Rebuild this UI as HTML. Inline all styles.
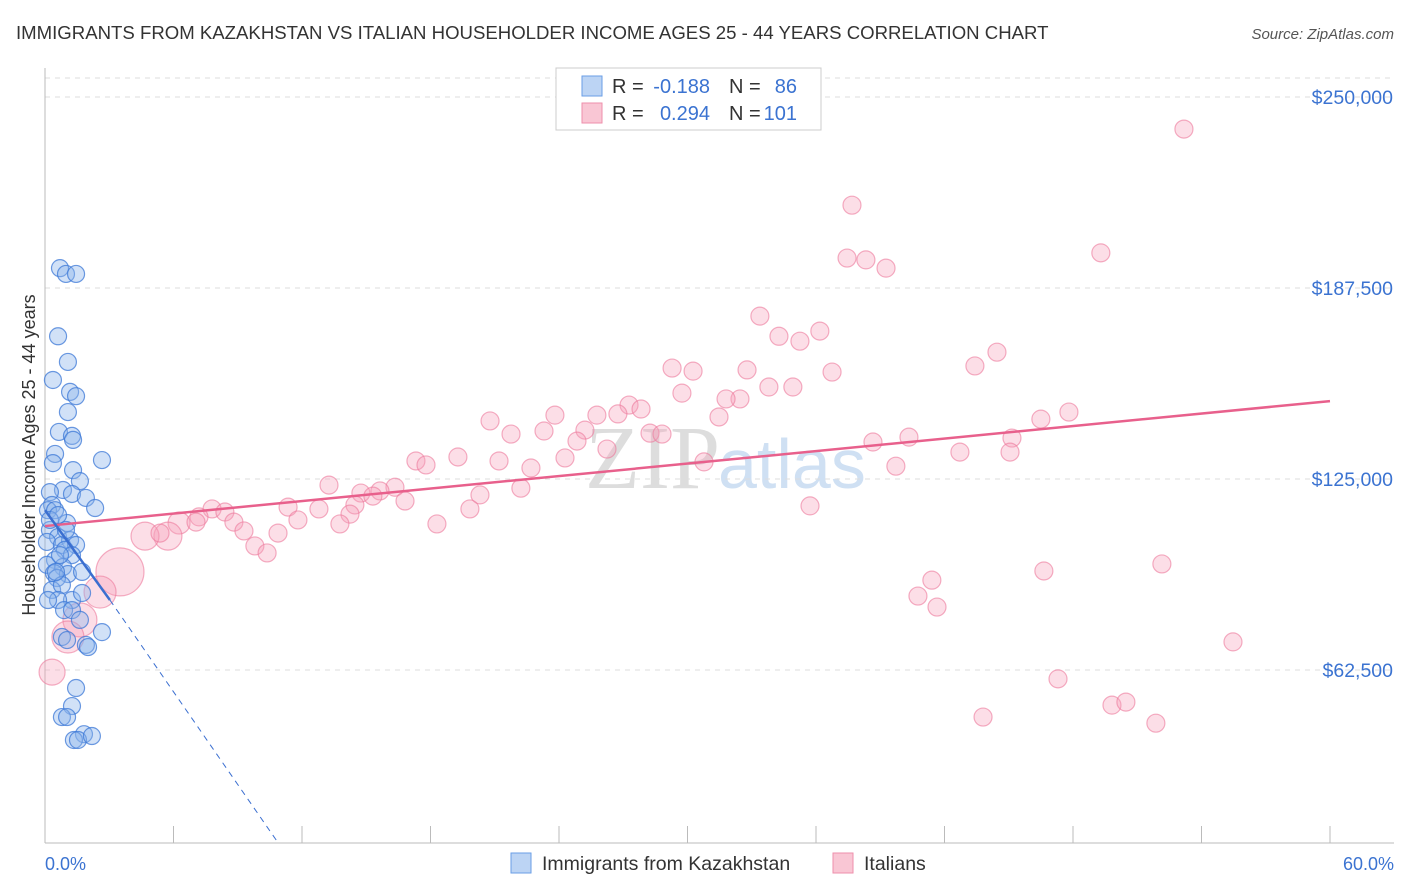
<!DOCTYPE html>
<html><head><meta charset="utf-8"><style>
body{margin:0;background:#fff;font-family:"Liberation Sans",sans-serif}
svg{display:block}
</style></head><body>
<svg width="1406" height="892" xmlns="http://www.w3.org/2000/svg">
<text x="16" y="39" font-size="18.6" fill="#333">IMMIGRANTS FROM KAZAKHSTAN VS ITALIAN HOUSEHOLDER INCOME AGES 25 - 44 YEARS CORRELATION CHART</text>
<text x="1394" y="39" font-size="15" fill="#555" font-style="italic" text-anchor="end">Source: ZipAtlas.com</text>
<text x="720" y="488" font-size="90" fill="#ddd" text-anchor="end" font-family="Liberation Serif,serif">ZIP</text>
<text x="718" y="488" font-size="70" fill="#cfe0f3">atlas</text>
<g id="grid"></g>
<g id="axes"></g>
<g id="pink"></g>
<g id="blue"></g>
<g id="trends"></g>
<text x="35" y="455" font-size="18" fill="#333" text-anchor="middle" transform="rotate(-90 35 455)">Householder Income Ages 25 - 44 years</text>
<text x="45" y="870" font-size="18" fill="#3b73d1">0.0%</text>
<text x="1394" y="870" font-size="18" fill="#3b73d1" text-anchor="end">60.0%</text>
<g font-size="20">
<rect x="556" y="68" width="265" height="62" fill="#fff" stroke="#ccc"/>
<rect x="582" y="76" width="20" height="20" fill="#bcd4f4" stroke="#6a9ee6"/>
<rect x="582" y="103" width="20" height="20" fill="#f9c6d4" stroke="#ee8fab"/>
<text x="612" y="93" fill="#333">R =</text><text x="710" y="93" fill="#3b73d1" text-anchor="end">-0.188</text>
<text x="729" y="93" fill="#333">N =</text><text x="797" y="93" fill="#3b73d1" text-anchor="end">86</text>
<text x="612" y="120" fill="#333">R =</text><text x="710" y="120" fill="#3b73d1" text-anchor="end">0.294</text>
<text x="729" y="120" fill="#333">N =</text><text x="797" y="120" fill="#3b73d1" text-anchor="end">101</text>
</g>
<g>
<rect x="511" y="853" width="20" height="20" fill="#bcd4f4" stroke="#6a9ee6"/>
<text x="542" y="870" font-size="19.5" fill="#333">Immigrants from Kazakhstan</text>
<rect x="833" y="853" width="20" height="20" fill="#f9c6d4" stroke="#ee8fab"/>
<text x="864" y="870" font-size="19.5" fill="#333">Italians</text>
</g>
</svg>
<script>
const blueX=[0.70,0.98,1.45,0.61,1.07,0.37,1.17,1.45,1.07,0.65,1.26,1.31,0.47,2.66,1.31,0.37,0.84,1.63,1.26,1.91,2.34,0.23,0.33,0.14,0.47,1.03,0.23,0.61,1.17,0.09,0.79,1.45,0.93,1.26,0.47,0.09,0.84,0.42,1.07,1.73,0.56,0.33,0.79,1.26,0.61,0.14,0.89,1.26,1.63,1.73,2.66,0.79,1.03,1.91,2.01,1.45,1.26,0.79,1.03,1.82,1.35,1.54,2.19,0.51,0.70,0.98,0.23,0.61];
const blueY=[194.0,192.1,192.1,171.7,163.3,157.4,153.5,152.1,146.9,140.4,139.1,137.8,133.2,131.2,127.9,130.2,121.4,124.3,120.1,118.8,115.5,120.7,116.5,114.8,114.8,110.6,108.3,106.0,105.0,104.4,103.4,103.4,101.8,100.1,98.5,96.9,96.2,94.2,93.9,94.6,92.6,88.7,90.3,85.4,85.4,85.4,82.1,82.1,78.9,87.7,74.9,73.3,72.3,70.7,70.0,56.6,50.7,47.1,47.1,41.5,39.6,39.6,40.9,94.6,100.1,108.3,111.6,113.2];
const pinkX=[53.18,37.68,49.30,37.45,38.33,39.27,33.38,36.18,34.27,35.25,44.45,29.28,30.26,32.78,36.75,43.42,29.74,33.80,34.92,32.45,31.80,27.27,27.83,25.77,26.75,23.81,31.47,20.78,47.81,46.50,25.21,23.30,21.76,28.25,28.81,38.66,40.34,45.15,24.84,26.24,19.28,42.72,45.06,17.32,17.79,21.20,24.28,30.77,22.69,39.73,13.26,16.34,15.64,14.75,15.31,22.22,20.31,16.81,14.47,11.35,12.79,14.24,19.84,11.81,13.77,7.80,8.40,7.19,6.26,7.05,8.82,18.30,35.72,9.29,10.88,9.80,10.37,5.74,4.67,5.37,3.50,52.15,46.64,41.41,40.76,41.65,2.57,1.63,1.07,55.47,47.30,0.33,43.80,49.82,50.47,51.87];
const pinkY=[239.5,214.6,199.0,197.3,196.7,194.0,178.3,173.4,171.7,170.1,166.5,161.3,160.3,160.7,160.0,162.0,153.1,155.1,155.1,151.2,151.2,149.2,147.9,145.9,146.3,145.9,145.3,144.0,146.9,144.6,141.0,140.7,139.7,140.0,139.7,137.1,138.7,138.4,137.4,134.8,132.2,133.8,133.8,130.9,129.6,130.9,131.9,130.6,128.6,129.2,123.0,122.3,121.1,120.4,119.4,122.0,119.8,117.8,116.5,115.8,115.2,113.5,115.2,111.6,110.3,115.2,114.2,112.6,110.6,110.9,110.9,110.3,116.2,108.0,107.3,103.1,100.8,106.3,106.3,107.3,94.6,97.2,94.9,91.9,86.7,83.1,88.0,78.9,73.3,71.7,59.6,61.8,47.1,51.0,52.0,45.1];
const pinkBig={80:24,86:16,87:17,88:16,78:14,77:14,91:13,68:11};
const yTickVals=[62.5,125,187.5,250];
const yTickLabels=["$62,500","$125,000","$187,500","$250,000"];
const pinkTrend=[109.6,150.5];
const blueTrend=[114.8,-9.7];
const NS="http://www.w3.org/2000/svg";
const sx=v=>45+v/60*1285;
const sy=v=>861-v*191/62.5;
function mk(t,a,p){const e=document.createElementNS(NS,t);for(const k in a)e.setAttribute(k,a[k]);p.appendChild(e);return e;}
const grid=document.getElementById('grid'),axes=document.getElementById('axes');
yTickVals.forEach((v,i)=>{
 const l=mk('line',{x1:45,x2:1394,y1:sy(v),y2:sy(v),stroke:'#ddd','stroke-dasharray':'5,5'},grid);
 
 
 const t=mk('text',{x:1393,y:sy(v)+7,'font-size':19.5,fill:'#3b73d1','text-anchor':'end'},axes);
 t.textContent=yTickLabels[i];
 
 
});
const tl=mk('line',{x1:45,x2:1394,y1:78,y2:78,stroke:'#ddd','stroke-dasharray':'5,5'},grid);


const ya=mk('line',{x1:45,x2:45,y1:68,y2:843,stroke:'#bbb'},axes);


const xa=mk('line',{x1:45,x2:1394,y1:843,y2:843,stroke:'#bbb'},axes);


for(let i=1;i<=10;i++){const t=mk('line',{x1:sx(i*6),x2:sx(i*6),y1:826,y2:843,stroke:'#bbb'},axes);
 
 }
const pg=document.getElementById('pink');
pinkX.forEach((x,i)=>{const c=mk('circle',{cx:sx(x),cy:sy(pinkY[i]),r:pinkBig[i]||9,fill:'rgba(246,160,185,0.35)',stroke:'rgba(236,120,155,0.6)','stroke-width':1.2},pg);
 
 });
const bg=document.getElementById('blue');
blueX.forEach((x,i)=>{const c=mk('circle',{cx:sx(x),cy:sy(blueY[i]),r:8.5,fill:'rgba(140,180,235,0.4)',stroke:'rgba(60,120,215,0.75)','stroke-width':1.2},bg);
 
 });
const tg=document.getElementById('trends');
const pt=mk('line',{x1:sx(0),y1:sy(pinkTrend[0]),x2:sx(60),y2:sy(pinkTrend[1]),stroke:'#e8608c','stroke-width':2.5},tg);


const bt=mk('line',{x1:sx(0),y1:sy(blueTrend[0]),x2:sx(3.03),y2:sy(blueTrend[0]+blueTrend[1]*3.03),stroke:'#3b6fd0','stroke-width':2.5},tg);


const xe=(blueTrend[0]-(861-843)*62.5/191)/-blueTrend[1]*0.97;
const bd=mk('line',{x1:sx(3.03),y1:sy(blueTrend[0]+blueTrend[1]*3.03),x2:sx(xe),y2:843,stroke:'#3b6fd0','stroke-width':1,'stroke-dasharray':'6,5'},tg);


</script>
</body></html>
